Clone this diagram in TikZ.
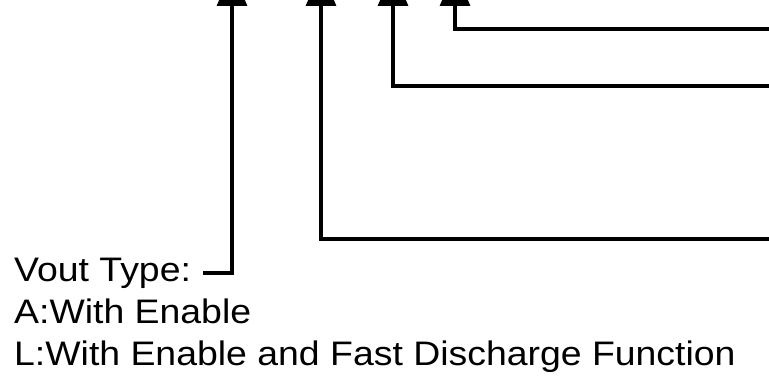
\documentclass[tikz,border=0pt]{standalone}
\usepackage{fontspec}
\newfontfamily\labelfont[FakeStretch=1.1]{Liberation Sans}
\usetikzlibrary{arrows.meta}
\begin{document}
\begin{tikzpicture}[x=1pt,y=1pt,
  conn/.style={line width=3.2pt, -{Triangle[width=30pt,length=36pt]}},
  lbl/.style={anchor=base west, inner sep=0pt, font=\labelfont\fontsize{34}{42}\selectfont}]
\useasboundingbox (0,0) rectangle (769,376);
\clip (0,0) rectangle (769,376);
\fill[white] (0,0) rectangle (769,376);
% labels
\node[lbl] (vout) at (14,95) {Vout Type:};
\node[lbl] (optA) at (14,53) {A:With Enable};
\node[lbl] (optL) at (14,11) {L:With Enable and Fast Discharge Function};
% connector ends
\coordinate (s1) at (203,103);
\coordinate (t1) at (232,406);
\coordinate (s2) at (790,137);
\coordinate (t2) at (321,406);
\coordinate (s3) at (790,290);
\coordinate (t3) at (393,406);
\coordinate (s4) at (790,347);
\coordinate (t4) at (455,406);
% connectors
\draw[conn] (s1) -| (t1);
\draw[conn] (s2) -| (t2);
\draw[conn] (s3) -| (t3);
\draw[conn] (s4) -| (t4);
\end{tikzpicture}
\end{document}
